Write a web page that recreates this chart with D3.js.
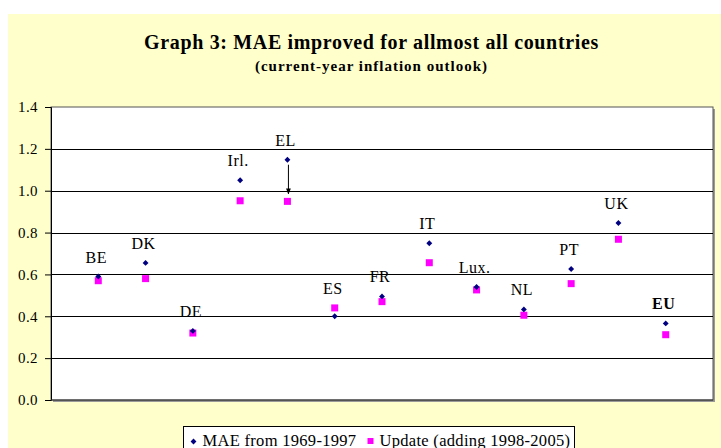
<!DOCTYPE html>
<html>
<head>
<meta charset="utf-8">
<script src="https://cdn.jsdelivr.net/npm/d3@7"></script>
<style>
  body { margin: 0; background: #fff; }
  svg text { font-family: "Liberation Serif", "Times New Roman", serif; fill: #000; }
</style>
</head>
<body>
<div id="chart"></div>
<script>
// chart data
const countries = ["BE", "DK", "DE", "Irl.", "EL", "ES", "FR", "IT", "Lux.", "NL", "PT", "UK", "EU"];
const maeOld = [0.59, 0.655, 0.33, 1.05, 1.148, 0.40, 0.495, 0.749, 0.54, 0.433, 0.626, 0.846, 0.366];
const maeUpdate = [0.57, 0.58, 0.32, 0.952, 0.949, 0.44, 0.47, 0.656, 0.526, 0.405, 0.556, 0.768, 0.312];
const yTicks = [0, 0.2, 0.4, 0.6, 0.8, 1.0, 1.2, 1.4];
const seriesNames = ["MAE from 1969-1997", "Update (adding 1998-2005)"];

//dimensions of the picture and the plot area
const width = 721;
const height = 448;
const margin = { top: 107, right: 8, bottom: 48, left: 51 };
const plotW = width - margin.left - margin.right;
const plotH = height - margin.top - margin.bottom;

const svg = d3.select("#chart")
  .append("svg")
  .attr("width", width)
  .attr("height", height);

// yellow chart background
svg.append("rect")
  .attr("x", 8).attr("y", 14)
  .attr("width", width - 8).attr("height", height - 14)
  .attr("fill", "#FFFFCC");

svg.append("text")
  .attr("x", 371.5).attr("y", 48.5)
  .attr("text-anchor", "middle")
  .style("font-size", "20px")
  .style("font-weight", "bold")
  .style("letter-spacing", "0.65px")
  .text("Graph 3: MAE improved for allmost all countries");

svg.append("text")
  .attr("x", 371.5).attr("y", 70.5)
  .attr("text-anchor", "middle")
  .style("font-size", "15px")
  .style("font-weight", "bold")
  .style("letter-spacing", "1px")
  .text("(current-year inflation outlook)");

const g = svg.append("g")
  .attr("transform", `translate(${margin.left},${margin.top})`);

const x = d3.scalePoint()
  .domain(countries)
  .range([0, plotW])
  .padding(1);

const y = d3.scaleLinear()
  .domain([0, 1.4])
  .range([plotH, 0]);

// plot area with its grey shadow
g.append("rect")
  .attr("x", 2).attr("y", 2)
  .attr("width", plotW).attr("height", plotH)
  .attr("fill", "#9a9a9a");
g.append("rect")
  .attr("width", plotW).attr("height", plotH)
  .attr("fill", "#fff")
  .attr("stroke", "#555")
  .attr("stroke-width", 1);

//gridlines
g.selectAll(".grid")
  .data(yTicks.filter((t) => t > 0 && t < 1.4))
  .enter()
  .append("line")
  .attr("x1", 0).attr("x2", plotW)
  .attr("y1", (d) => Math.round(y(d)) + 0.5)
  .attr("y2", (d) => Math.round(y(d)) + 0.5)
  .attr("stroke", "#000")
  .attr("stroke-width", 1);

// y axis
const yAxis = g.append("g")
  .call(d3.axisLeft(y).tickValues(yTicks).tickFormat(d3.format(".1f")).tickSize(6).tickPadding(7));
yAxis.select(".domain").attr("stroke", "#000");
yAxis.selectAll(".tick line").attr("stroke", "#000");
yAxis.selectAll(".tick text")
  .style("font-size", "15px")
  .style("letter-spacing", "0.4px")
  .attr("fill", "#000");

// bottom axis line
g.append("line")
  .attr("x1", 0).attr("x2", plotW)
  .attr("y1", plotH).attr("y2", plotH)
  .attr("stroke", "#333");

// arrow annotation for EL
svg.append("defs").append("marker")
  .attr("id", "arrow")
  .attr("viewBox", "0 0 10 10")
  .attr("refX", 9).attr("refY", 5)
  .attr("markerWidth", 6).attr("markerHeight", 6)
  .attr("orient", "auto")
  .append("path")
  .attr("d", "M0,1 L10,5 L0,9 z")
  .attr("fill", "#000");

const elIdx = countries.indexOf("EL");
g.append("line")
  .attr("x1", x("EL") + 1).attr("x2", x("EL") + 1)
  .attr("y1", y(maeOld[elIdx]) + 5)
  .attr("y2", y(0.985))
  .attr("stroke", "#000")
  .attr("stroke-width", 1)
  .attr("marker-end", "url(#arrow)");

// update series: pink squares
g.selectAll(".upd")
  .data(maeUpdate)
  .enter()
  .append("rect")
  .attr("x", (d, i) => x(countries[i]) - 3.5)
  .attr("y", (d) => y(d) - 3.5)
  .attr("width", 7).attr("height", 7)
  .attr("fill", "#FF00FF");

// old series: navy diamonds
const diamond = d3.symbol().type(d3.symbolDiamond2).size(22);
g.selectAll(".old")
  .data(maeOld)
  .enter()
  .append("path")
  .attr("d", diamond)
  .attr("transform", (d, i) => `translate(${x(countries[i])},${y(d)})`)
  .attr("fill", "#000080");

// country labels above the points
g.selectAll(".lbl")
  .data(countries)
  .enter()
  .append("text")
  .attr("x", (d) => x(d) - 2)
  .attr("y", (d, i) => y(Math.max(maeOld[i], maeUpdate[i])) - 14)
  .attr("text-anchor", "middle")
  .style("font-size", "16px")
  .style("letter-spacing", "0.5px")
  .style("font-weight", (d) => (d === "EU" ? "bold" : "normal"))
  .text((d) => d);

// legend
const leg = svg.append("g").attr("transform", "translate(183.5,426.5)");
leg.append("rect")
  .attr("width", 391).attr("height", 30)
  .attr("fill", "#fff")
  .attr("stroke", "#000");
leg.append("path")
  .attr("d", diamond)
  .attr("transform", "translate(10,15)")
  .attr("fill", "#000080");
leg.append("text")
  .attr("x", 19).attr("y", 19)
  .style("font-size", "16.5px")
  .style("letter-spacing", "0.3px")
  .text(seriesNames[0]);
leg.append("rect")
  .attr("x", 184).attr("y", 11.5)
  .attr("width", 6).attr("height", 6)
  .attr("fill", "#FF00FF");
leg.append("text")
  .attr("x", 196).attr("y", 19)
  .style("font-size", "16.5px")
  .style("letter-spacing", "0.3px")
  .text(seriesNames[1]);
</script>
</body>
</html>
